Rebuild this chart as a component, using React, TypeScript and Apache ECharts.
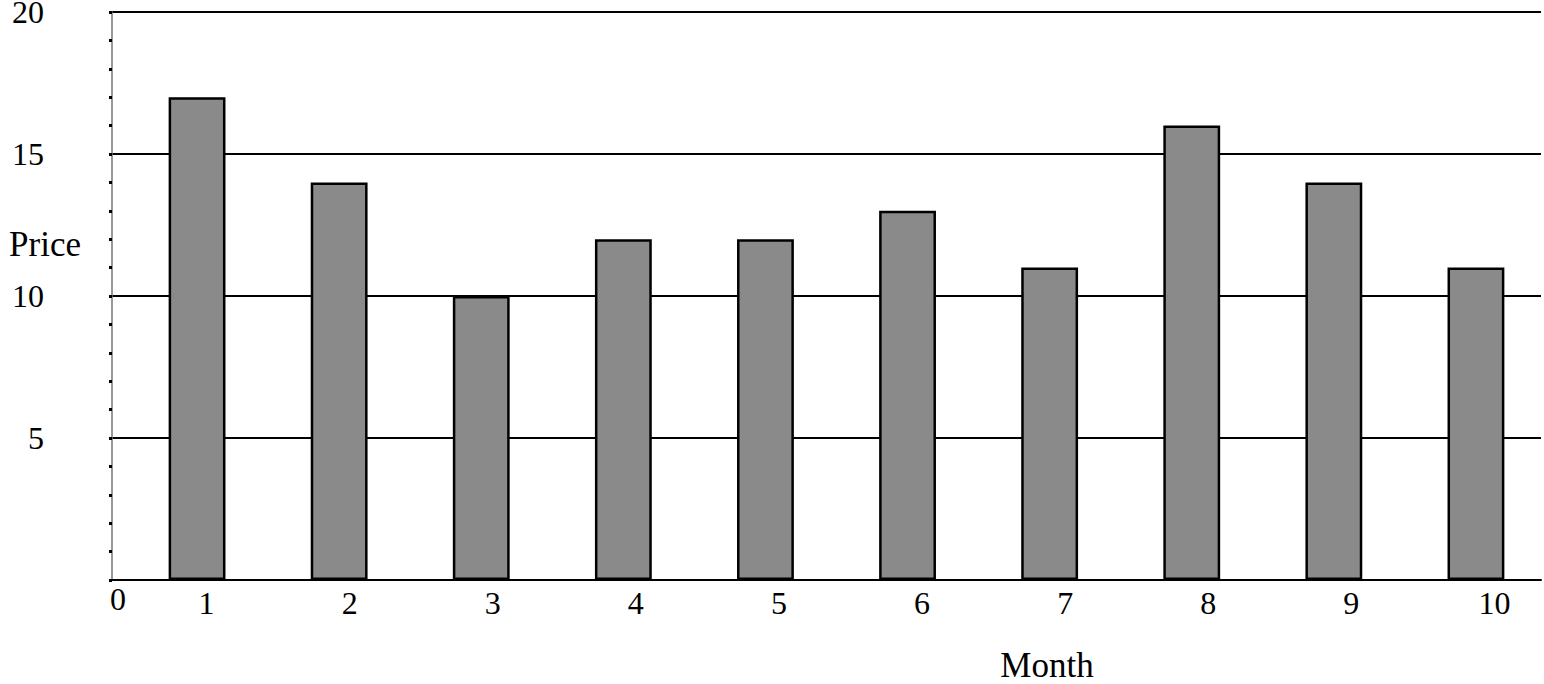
import React, { useEffect, useRef } from "react";
import * as echarts from "echarts";

const months = ["1", "2", "3", "4", "5", "6", "7", "8", "9", "10"];
const prices = [17, 14, 10, 12, 12, 13, 11, 16, 14, 11];
const yMin = 0;
const yMax = 20;
const yStep = 5;
const xTitle = "Month";
const yTitle = "Price";

const FONT = "'Liberation Serif', 'Times New Roman', serif";

export default function App() {
  const ref = useRef<HTMLDivElement>(null);

  useEffect(() => {
    document.body.style.margin = "0";
    const chart = echarts.init(ref.current!, null, { renderer: "svg" });
    const top = 12;
    const bottom = 104;
    chart.setOption({
      animation: false,
      backgroundColor: "#ffffff",
      grid: [
        { left: 112, right: 3, top, bottom, outerBoundsMode: "none", containLabel: false },
        { left: 126, width: 1421, top, bottom, outerBoundsMode: "none", containLabel: false },
        { left: 135, width: 1431, top, bottom, outerBoundsMode: "none", containLabel: false },
      ],
      xAxis: [
        {
          gridIndex: 0,
          type: "value",
          min: 0,
          max: 1,
          interval: 1,
          axisLine: { show: true, lineStyle: { color: "#000", width: 2 } },
          axisTick: { show: false },
          splitLine: { show: false },
          axisLabel: {
            formatter: (v: number) => (v === 0 ? "0" : ""),
            margin: 3,
            align: "center",
            padding: [0, 0, 0, 12],
            fontFamily: FONT,
            fontSize: 32,
            color: "#000",
          },
        },
        {
          gridIndex: 1,
          type: "category",
          data: months,
          show: false,
        },
        {
          gridIndex: 2,
          type: "category",
          data: months,
          axisLine: { show: false },
          axisTick: { show: false },
          splitLine: { show: false },
          axisLabel: {
            margin: 7,
            fontFamily: FONT,
            fontSize: 32,
            color: "#000",
          },
        },
      ],
      yAxis: [
        {
          gridIndex: 0,
          type: "value",
          min: yMin,
          max: yMax,
          interval: yStep,
          axisLine: { show: true, lineStyle: { color: "#777", width: 1.5 } },
          axisTick: { show: true, length: 3, lineStyle: { color: "#000", width: 3 } },
          minorTick: { show: true, splitNumber: 5, length: 3, lineStyle: { color: "#000", width: 3 } },
          splitLine: { show: true, lineStyle: { color: "#000", width: 2 } },
          axisLabel: {
            formatter: (v: number) => (v === 0 ? "" : String(v)),
            margin: 68,
            lineHeight: 18,
            verticalAlign: "middle",
            padding: [6, 0, 0, 0],
            fontFamily: FONT,
            fontSize: 32,
            color: "#000",
          },
        },
        { gridIndex: 1, type: "value", min: yMin, max: yMax, show: false, splitLine: { show: false } },
        { gridIndex: 2, type: "value", min: yMin, max: yMax, show: false, splitLine: { show: false } },
      ],
      series: [
        {
          type: "bar",
          xAxisIndex: 1,
          yAxisIndex: 1,
          data: prices,
          barWidth: "40%",
          itemStyle: { color: "#8a8a8a", borderColor: "#000", borderWidth: 2.5 },
        },
      ],
      graphic: [
        {
          type: "text",
          x: 45,
          y: 244,
          style: {
            text: yTitle,
            fontFamily: FONT,
            fontSize: 35,
            fill: "#000",
            align: "center",
            verticalAlign: "middle",
          },
        },
        {
          type: "text",
          x: 1047,
          y: 665,
          style: {
            text: xTitle,
            fontFamily: FONT,
            fontSize: 35,
            fill: "#000",
            align: "center",
            verticalAlign: "middle",
          },
        },
      ],
    });
    return () => chart.dispose();
  }, []);

  return <div ref={ref} style={{ width: 1544, height: 684 }} />;
}
